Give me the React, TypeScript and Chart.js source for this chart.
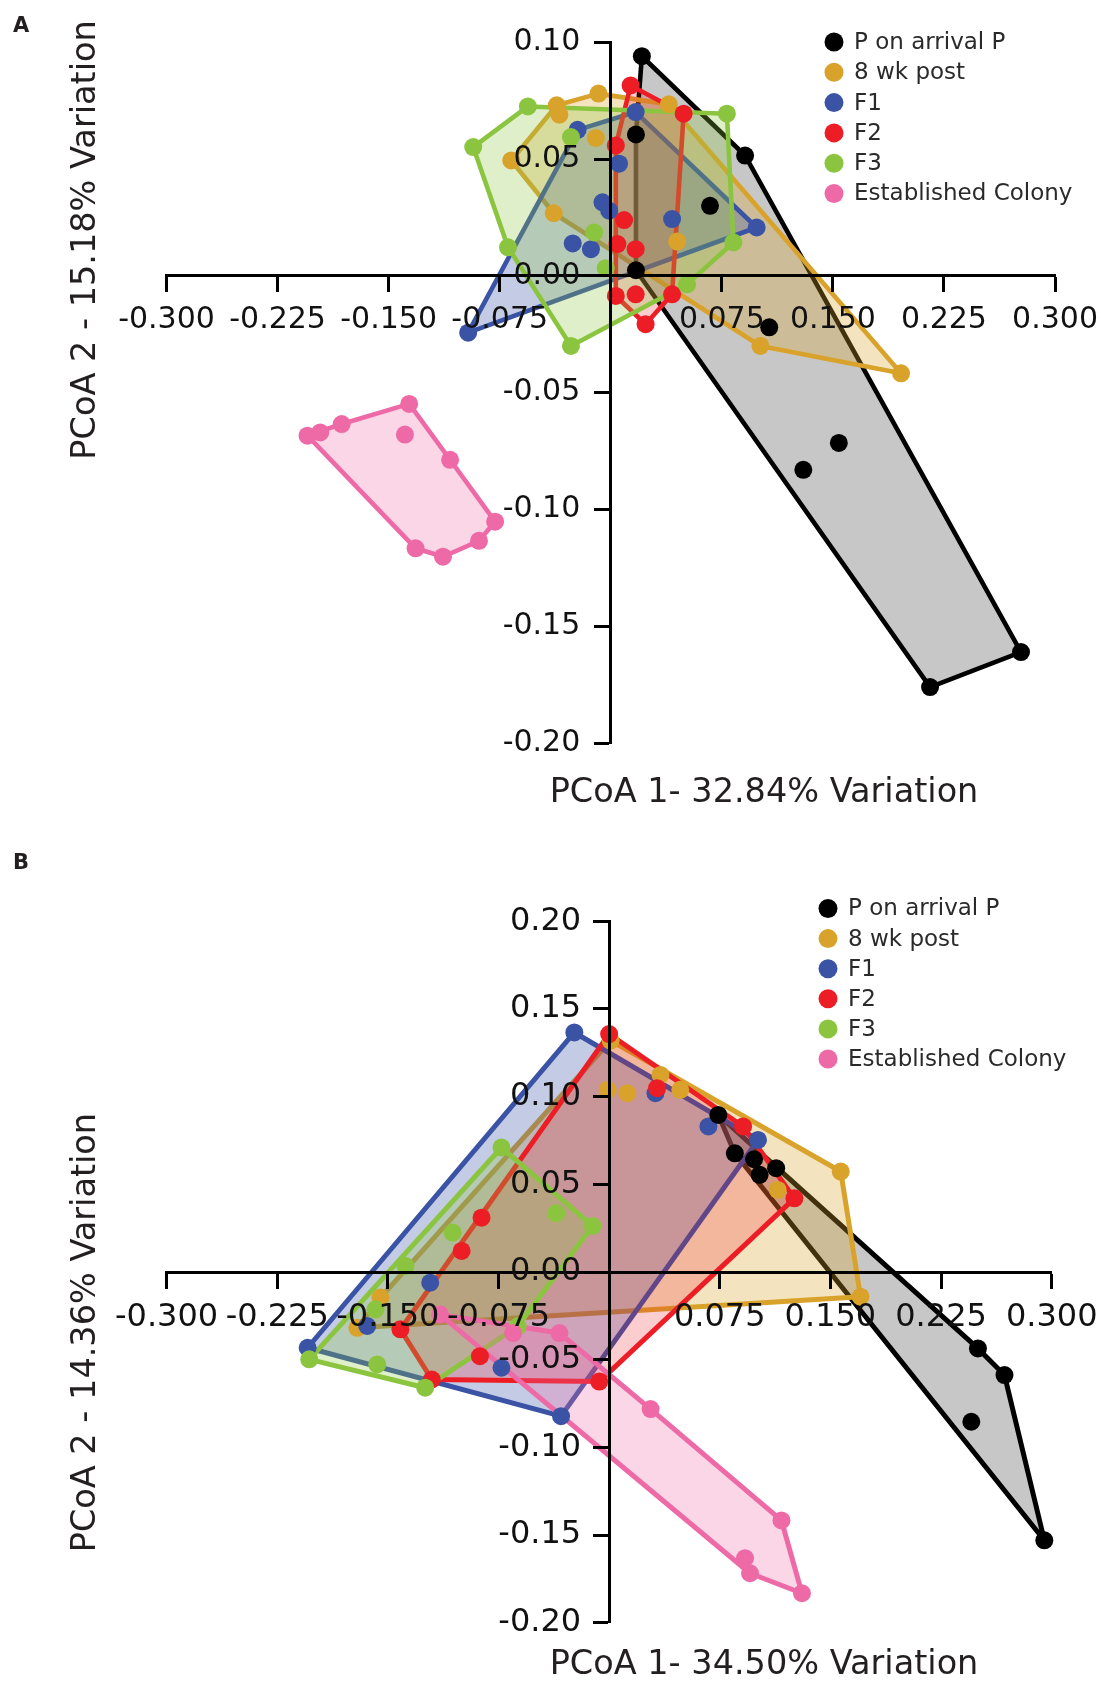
import React, { useEffect, useRef } from 'react';
import { Chart, registerables, LinearScale } from 'chart.js';

Chart.register(...registerables);

// Linear scale whose tick labels sit left of a crossing (object-positioned) y axis
class CrossLinearScale extends LinearScale {
  static id = 'crossLinear';
  static defaults = LinearScale.defaults;
  _computeLabelItems(chartArea: any) {
    const items = (super._computeLabelItems as any)(chartArea);
    const pos: any = (this as any).options.position;
    if ((this as any).axis === 'y' && pos && typeof pos === 'object') {
      const key = Object.keys(pos)[0];
      const axisPx = (this as any).chart.scales[key].getPixelForValue(pos[key]);
      const o: any = (this as any).options;
      const tl = o.grid.drawTicks ? o.grid.tickLength : 0;
      const bw = o.border.display ? o.border.width : 0;
      const want = axisPx - bw / 2 - tl - o.ticks.padding;
      for (const it of items) {
        it.options.translation[0] = want;
        it.options.textAlign = 'right';
      }
    }
    return items;
  }
}
Chart.register(CrossLinearScale as any);

// ---------------- data ----------------
const GROUP_LABELS = ['P on arrival P', '8 wk post', 'F1', 'F2', 'F3', 'Established Colony'];

const X_TICKS = [-0.3, -0.225, -0.15, -0.075, 0.075, 0.15, 0.225, 0.3];
const A_Y_TICKS = [0.1, 0.05, 0, -0.05, -0.1, -0.15, -0.2];
const B_Y_TICKS = [0.2, 0.15, 0.1, 0.05, 0, -0.05, -0.1, -0.15, -0.2];

const A_X_TITLE = 'PCoA 1- 32.84% Variation';
const A_Y_TITLE = 'PCoA 2 - 15.18% Variation';
const B_X_TITLE = 'PCoA 1- 34.50% Variation';
const B_Y_TITLE = 'PCoA 2 - 14.36% Variation';

// Panel A
const A_P_ARRIVAL = [[0.021, 0.094], [0.0907, 0.0515], [0.017, 0.0605], [0.067, 0.030], [0.017, 0.0024], [0.107, -0.022], [0.130, -0.083], [0.154, -0.0715], [0.2156, -0.176], [0.277, -0.161]];
const A_WK8_POST = [[-0.0083, 0.078], [-0.0365, 0.073], [-0.0347, 0.069], [-0.0672, 0.0494], [0.0392, 0.0734], [-0.0101, 0.059], [-0.0385, 0.0268], [0.0448, 0.0147], [0.101, -0.030], [0.196, -0.0417]];
const A_F1 = [[0.0168, 0.0701], [-0.0224, 0.0625], [0.0056, 0.048], [-0.0056, 0.0315], [-0.0011, 0.0279], [-0.0257, 0.0139], [-0.0134, 0.0114], [0.0414, 0.0243], [0.0985, 0.0207], [-0.0963, -0.0243]];
const A_F2 = [[0.0134, 0.0815], [0.0492, 0.0694], [0.0034, 0.0558], [0.009, 0.0239], [0.0045, 0.0136], [0.0168, 0.0114], [0.0034, -0.0086], [0.0168, -0.0079], [0.0414, -0.0079], [0.0235, -0.0207]];
const A_F3 = [[-0.056, 0.0725], [-0.0929, 0.0551], [-0.0269, 0.0594], [0.0784, 0.0694], [0.0828, 0.0143], [-0.0694, 0.0122], [-0.0112, 0.0186], [-0.0034, 0.0033], [0.0515, -0.0036], [-0.0269, -0.030]];
const A_COLONY = [[-0.2048, -0.0684], [-0.1962, -0.067], [-0.1817, -0.0634], [-0.1361, -0.0548], [-0.139, -0.0679], [-0.1085, -0.0787], [-0.0781, -0.1052], [-0.089, -0.1134], [-0.1133, -0.1202], [-0.1318, -0.1166]];

// Panel B
const B_P_ARRIVAL = [[0.074, 0.0896], [0.0852, 0.0677], [0.0982, 0.0643], [0.102, 0.0554], [0.1132, 0.0592], [0.25, -0.0436], [0.268, -0.0588], [0.2455, -0.0854], [0.295, -0.153]];
const B_WK8_POST = [[0.001, 0.132], [-0.001, 0.1039], [0.0123, 0.102], [0.0348, 0.1124], [0.0482, 0.1039], [0.157, 0.0573], [0.1143, 0.0468], [0.1704, -0.0141], [-0.155, -0.0146], [-0.1707, -0.0318]];
const B_F1 = [[-0.0236, 0.1366], [-0.2044, -0.0432], [-0.0326, -0.0822], [-0.1213, -0.0061], [-0.164, -0.0308], [-0.073, -0.0546], [0.0314, 0.102], [0.0673, 0.083], [0.1009, 0.0753]];
const B_F2 = [[0.0, 0.1357], [-0.0865, 0.031], [-0.1, 0.012], [-0.1415, -0.0327], [-0.1202, -0.0613], [-0.0876, -0.048], [-0.0067, -0.0625], [0.0325, 0.1048], [0.0908, 0.083], [0.1256, 0.042]];
const B_F3 = [[-0.073, 0.071], [-0.0112, 0.0263], [-0.0359, 0.0335], [-0.1061, 0.0225], [-0.1381, 0.0034], [-0.1584, -0.0213], [-0.2033, -0.0498], [-0.1572, -0.0527], [-0.1247, -0.066], [-0.062, -0.031]];
const B_COLONY = [[-0.1146, -0.0243], [-0.0651, -0.0348], [-0.0337, -0.0348], [0.0281, -0.0782], [0.1168, -0.1417], [0.1307, -0.1832], [0.0955, -0.1718], [0.0921, -0.1632]];

const A_GROUPS = [A_P_ARRIVAL, A_WK8_POST, A_F1, A_F2, A_F3, A_COLONY];
const B_GROUPS = [B_P_ARRIVAL, B_WK8_POST, B_F1, B_F2, B_F3, B_COLONY];

// ---------------- styles ----------------
const GROUP_COLORS = ['#000000', '#D9A22B', '#3A53A4', '#EC1D25', '#8BC540', '#EE6AA7'];
const FILL_ALPHA = [0.22, 0.3, 0.3, 0.22, 0.28, 0.28];
const HULL_DRAW_ORDER = [0, 1, 2, 3, 4, 5]; // bottom -> top
const POINT_DRAW_ORDER = [1, 2, 3, 4, 5, 0]; // bottom -> top
const FONT = "'DejaVu Sans', 'Liberation Sans', sans-serif";

const PANEL_A = {
  letter: 'A', groups: A_GROUPS, yMin: -0.2, yMax: 0.1, yTicks: A_Y_TICKS,
  xTitle: A_X_TITLE, yTitle: A_Y_TITLE, top: 0, height: 840,
  padding: { left: 166.5, right: 51, top: 42.2, bottom: 96.8 },
  tickSize: 30, xPad: 11, yPad: 14, lineWidth: 4.6, pointRadius: 9,
  legendX: 834, legendY: 42, legendStep: 30.3,
  xTitleX: 764, xTitleY: 802, yTitleX: 95, yTitleY: 240, letterY: 31.5,
};
const PANEL_B = {
  letter: 'B', groups: B_GROUPS, yMin: -0.2, yMax: 0.2, yTicks: B_Y_TICKS,
  xTitle: B_X_TITLE, yTitle: B_Y_TITLE, top: 840, height: 841,
  padding: { left: 166.6, right: 49, top: 81.3, bottom: 58.3 },
  tickSize: 32, xPad: 11.5, yPad: 11.5, lineWidth: 5, pointRadius: 9,
  legendX: 828, legendY: 68.5, legendStep: 30.1,
  xTitleX: 764, xTitleY: 833.5, yTitleX: 95, yTitleY: 492.6, letterY: 28.7,
};

function convexHull(pts: number[][]): number[][] {
  const p = pts.slice().sort((a, b) => a[0] - b[0] || a[1] - b[1]);
  const cross = (o: number[], a: number[], b: number[]) =>
    (a[0] - o[0]) * (b[1] - o[1]) - (a[1] - o[1]) * (b[0] - o[0]);
  const lower: number[][] = [];
  for (const q of p) {
    while (lower.length >= 2 && cross(lower[lower.length - 2], lower[lower.length - 1], q) <= 0) lower.pop();
    lower.push(q);
  }
  const upper: number[][] = [];
  for (let i = p.length - 1; i >= 0; i--) {
    const q = p[i];
    while (upper.length >= 2 && cross(upper[upper.length - 2], upper[upper.length - 1], q) <= 0) upper.pop();
    upper.push(q);
  }
  upper.pop();
  lower.pop();
  return lower.concat(upper);
}

function rgba(hex: string, a: number) {
  const n = parseInt(hex.slice(1), 16);
  return `rgba(${(n >> 16) & 255}, ${(n >> 8) & 255}, ${n & 255}, ${a})`;
}

function buildDatasets(cfg: any) {
  const ds: any[] = [];
  cfg.groups.forEach((pts: number[][], g: number) => {
    const h = convexHull(pts);
    ds.push({
      type: 'line',
      label: GROUP_LABELS[g] + ' hull',
      data: [...h, h[0]].map(([x, y]) => ({ x, y })),
      borderColor: GROUP_COLORS[g],
      backgroundColor: rgba(GROUP_COLORS[g], FILL_ALPHA[g]),
      borderWidth: cfg.lineWidth,
      fill: 'shape',
      pointRadius: 0,
      pointHoverRadius: 0,
      tension: 0,
      borderJoinStyle: 'round',
      borderCapStyle: 'round',
      order: 100 - HULL_DRAW_ORDER.indexOf(g),
      clip: false,
    });
  });
  cfg.groups.forEach((pts: number[][], g: number) => {
    ds.push({
      type: 'scatter',
      label: GROUP_LABELS[g],
      data: pts.map(([x, y]) => ({ x, y })),
      backgroundColor: GROUP_COLORS[g],
      borderColor: GROUP_COLORS[g],
      pointRadius: cfg.pointRadius,
      pointHoverRadius: cfg.pointRadius,
      borderWidth: 0,
      pointBorderWidth: 0,
      showLine: false,
      order: 50 - POINT_DRAW_ORDER.indexOf(g),
      clip: false,
    });
  });
  return ds;
}

function annotationPlugin(cfg: any) {
  return {
    id: 'annotations' + cfg.letter,
    afterDraw(chart: any) {
      const ctx = chart.ctx;
      ctx.save();
      ctx.fillStyle = '#231f20';
      // panel letter
      ctx.font = `bold 21px ${FONT}`;
      ctx.textAlign = 'left';
      ctx.textBaseline = 'alphabetic';
      ctx.fillText(cfg.letter, 13, cfg.letterY);
      // x title
      ctx.font = `33.5px ${FONT}`;
      ctx.textAlign = 'center';
      ctx.fillText(cfg.xTitle, cfg.xTitleX, cfg.xTitleY);
      // y title
      ctx.save();
      ctx.translate(cfg.yTitleX, cfg.yTitleY);
      ctx.rotate(-Math.PI / 2);
      ctx.fillText(cfg.yTitle, 0, 0);
      ctx.restore();
      // legend
      ctx.font = `23px ${FONT}`;
      ctx.textAlign = 'left';
      ctx.textBaseline = 'middle';
      GROUP_LABELS.forEach((lab, i) => {
        const y = cfg.legendY + i * cfg.legendStep;
        ctx.beginPath();
        ctx.arc(cfg.legendX, y, 9.5, 0, Math.PI * 2);
        ctx.fillStyle = GROUP_COLORS[i];
        ctx.fill();
        ctx.fillStyle = '#2a2a2a';
        ctx.fillText(lab, cfg.legendX + 20, y + 1);
      });
      ctx.restore();
    },
  };
}

function makeConfig(cfg: any): any {
  const axisBorder = { display: true, color: '#000', width: 3, z: 1 };
  const axisGrid = {
    display: true, drawOnChartArea: false, drawTicks: true,
    tickLength: 15, tickWidth: 3, tickColor: '#000', color: '#000', z: 1,
  };
  return {
    type: 'scatter',
    data: { datasets: buildDatasets(cfg) },
    options: {
      animation: false,
      responsive: false,
      maintainAspectRatio: false,
      devicePixelRatio: 1,
      events: [],
      layout: { padding: cfg.padding },
      plugins: { legend: { display: false }, tooltip: { enabled: false }, title: { display: false } },
      scales: {
        x: {
          type: 'linear',
          min: -0.3,
          max: 0.3,
          position: { y: 0 },
          afterBuildTicks: (s: any) => { s.ticks = X_TICKS.map((v) => ({ value: v })); },
          afterFit: (s: any) => { s.height = 0; },
          border: axisBorder,
          grid: axisGrid,
          ticks: {
            z: 1, color: '#111', autoSkip: false, maxRotation: 0, minRotation: 0,
            padding: cfg.xPad,
            font: { family: FONT, size: cfg.tickSize },
            callback: (v: any) => Number(v).toFixed(3),
          },
        },
        y: {
          type: 'crossLinear',
          min: cfg.yMin,
          max: cfg.yMax,
          position: { x: 0 },
          afterBuildTicks: (s: any) => { s.ticks = cfg.yTicks.map((v: number) => ({ value: v })); },
          afterFit: (s: any) => { s.width = 0; },
          border: axisBorder,
          grid: axisGrid,
          ticks: {
            z: 1, color: '#111', autoSkip: false,
            padding: cfg.yPad,
            font: { family: FONT, size: cfg.tickSize },
            callback: (v: any) => Number(v).toFixed(2),
          },
        },
      },
    },
    plugins: [annotationPlugin(cfg)],
  };
}

function Panel({ cfg }: { cfg: any }) {
  const ref = useRef<HTMLCanvasElement | null>(null);
  useEffect(() => {
    if (!ref.current) return;
    const chart = new Chart(ref.current, makeConfig(cfg));
    return () => chart.destroy();
  }, [cfg]);
  return (
    <canvas
      ref={ref}
      width={1109}
      height={cfg.height}
      style={{ position: 'absolute', left: 0, top: cfg.top, width: 1109, height: cfg.height }}
    />
  );
}

export default function App() {
  return (
    <div style={{ position: 'absolute', left: 0, top: 0, width: 1109, height: 1681, background: '#ffffff', overflow: 'hidden' }}>
      <Panel cfg={PANEL_A} />
      <Panel cfg={PANEL_B} />
    </div>
  );
}
